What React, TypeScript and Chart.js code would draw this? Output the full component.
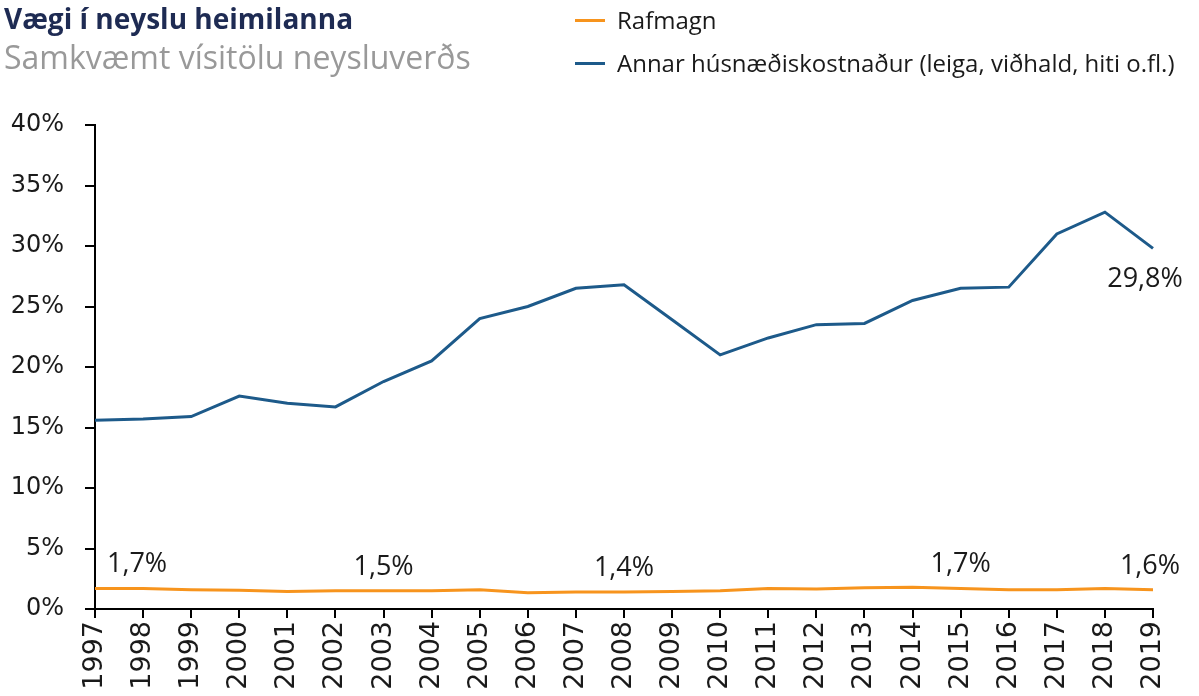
import React, { useEffect, useRef } from "react";
import { Chart, registerables } from "chart.js";

Chart.register(...registerables);

const titleText = "Vægi í neyslu heimilanna";
const subtitleText = "Samkvæmt vísitölu neysluverðs";
const seriesNames = ["Rafmagn", "Annar húsnæðiskostnaður (leiga, viðhald, hiti o.fl.)"];
const years = [
  "1997", "1998", "1999", "2000", "2001", "2002", "2003", "2004", "2005", "2006", "2007", "2008",
  "2009", "2010", "2011", "2012", "2013", "2014", "2015", "2016", "2017", "2018", "2019",
];
const rafmagn = [1.7, 1.7, 1.6, 1.55, 1.45, 1.5, 1.5, 1.5, 1.6, 1.35, 1.4, 1.4, 1.45, 1.5, 1.7, 1.65, 1.75, 1.8, 1.7, 1.6, 1.6, 1.7, 1.6];
const annar = [15.6, 15.7, 15.9, 17.6, 17.0, 16.7, 18.8, 20.5, 24.0, 25.0, 26.5, 26.8, 23.9, 21.0, 22.4, 23.5, 23.6, 25.5, 26.5, 26.6, 31.0, 32.8, 29.8];
const yTickValues = [0, 5, 10, 15, 20, 25, 30, 35, 40];
const rafmagnLabelIdx = [0, 6, 11, 18, 22];
const annarLabelIdx = [22];

const ORANGE = "#f7941d";
const BLUE = "#1d5a8a";

const labelPlugin = {
  id: "valueLabels",
  afterDatasetsDraw(chart: any) {
    const ctx = chart.ctx;
    ctx.save();
    ctx.font = '27px "Open Sans"';
    ctx.fillStyle = "#1a1a1a";
    ctx.textBaseline = "alphabetic";
    const fmt = (v: number) => v.toFixed(1).replace(".", ",") + "%";
    const m0 = chart.getDatasetMeta(0);
    rafmagnLabelIdx.forEach((i, k) => {
      const p = m0.data[i];
      if (!p) return;
      if (k === 0) {
        ctx.textAlign = "left";
        ctx.fillText(fmt(rafmagn[i]), p.x + 12, p.y - 16);
      } else if (i === years.length - 1) {
        ctx.textAlign = "center";
        ctx.fillText(fmt(rafmagn[i]), p.x - 3, p.y - 16);
      } else {
        ctx.textAlign = "center";
        ctx.fillText(fmt(rafmagn[i]), p.x, p.y - 16);
      }
    });
    const m1 = chart.getDatasetMeta(1);
    annarLabelIdx.forEach((i) => {
      const p = m1.data[i];
      if (!p) return;
      ctx.textAlign = "center";
      ctx.fillText(fmt(annar[i]), p.x - 8, p.y + 39);
    });
    ctx.restore();
  },
};

export default function App() {
  const ref = useRef<HTMLCanvasElement | null>(null);
  useEffect(() => {
    if (!ref.current) return;
    const chart = new Chart(ref.current, {
      type: "line",
      data: {
        labels: years,
        datasets: [
          { label: seriesNames[0], data: rafmagn, borderColor: ORANGE, backgroundColor: ORANGE, borderWidth: 3, pointRadius: 0, tension: 0 },
          { label: seriesNames[1], data: annar, borderColor: BLUE, backgroundColor: BLUE, borderWidth: 3, pointRadius: 0, tension: 0 },
        ],
      },
      options: {
        responsive: false,
        animation: false,
        layout: { padding: { top: 125, right: 46, left: 0, bottom: 0 } },
        plugins: { legend: { display: false }, title: { display: false }, tooltip: { enabled: false } },
        scales: {
          x: {
            offset: false,
            grid: { drawOnChartArea: false, drawTicks: true, tickLength: 9, color: "#000", lineWidth: 2 },
            border: { color: "#000", width: 2 },
            ticks: {
              autoSkip: false,
              minRotation: 90,
              maxRotation: 90,
              padding: 3,
              color: "#1a1a1a",
              font: { family: '"DejaVu Sans"', size: 27 },
            },
            afterFit: (s: any) => { s.height = 87; },
          },
          y: {
            min: 0,
            max: 40,
            afterBuildTicks: (s: any) => { s.ticks = yTickValues.map((v) => ({ value: v })); },
            grid: { drawOnChartArea: false, drawTicks: true, tickLength: 10, color: "#000", lineWidth: 2 },
            border: { color: "#000", width: 2 },
            ticks: {
              padding: 21,
              color: "#1a1a1a",
              font: { family: '"DejaVu Sans"', size: 24 },
              callback: (v: any) => v + "%",
            },
            afterFit: (s: any) => { s.width = 95; },
          },
        },
      },
      plugins: [labelPlugin],
    });
    return () => chart.destroy();
  }, []);

  const legendRow = (color: string, text: string, top: number) => (
    <div style={{ position: "absolute", left: 575, top: top - 17, height: 34, display: "flex", alignItems: "center", whiteSpace: "nowrap" }}>
      <div style={{ width: 30, height: 3, background: color, marginRight: 12 }} />
      <span style={{ font: '24px "Open Sans"', color: "#1a1a1a", lineHeight: "34px" }}>{text}</span>
    </div>
  );

  return (
    <div style={{ position: "fixed", left: 0, top: 0, width: 1199, height: 696, background: "#fff" }}>
      <canvas ref={ref} width={1199} height={696} style={{ position: "absolute", left: 0, top: 0 }} />
      <div style={{ position: "absolute", left: 4, top: -2, font: 'bold 28px "Open Sans"', color: "#1e2b53", whiteSpace: "nowrap", lineHeight: "40px" }}>{titleText}</div>
      <div style={{ position: "absolute", left: 4, top: 36, font: '32px "Open Sans"', color: "#999999", whiteSpace: "nowrap", lineHeight: "42px" }}>{subtitleText}</div>
      {legendRow(ORANGE, seriesNames[0], 20)}
      {legendRow(BLUE, seriesNames[1], 63)}
    </div>
  );
}
